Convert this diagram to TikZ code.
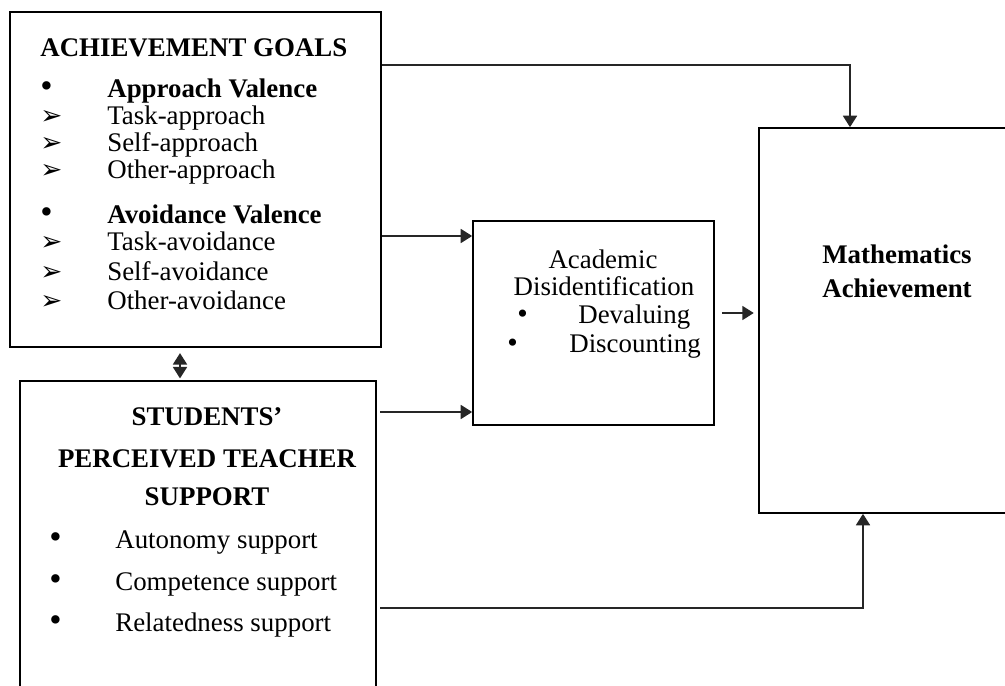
\documentclass[tikz,border=0pt]{standalone}
\usepackage{fontspec}
\setmainfont{Liberation Serif}
\newfontfamily\symfont{DejaVu Sans}
\usetikzlibrary{arrows.meta}

\newcommand{\pointer}{{\symfont\fontsize{15}{15}\selectfont ➢}}
\newcommand{\dotmark}[1][20]{\smash{\fontsize{#1}{#1}\selectfont •}}

\tikzset{
	box/.style={draw, line width=1pt, inner sep=0pt},
	line/.style={anchor=base west, inner sep=0pt},
	mid/.style={anchor=base, inner sep=0pt},
	link/.style={->, line width=0.9pt, black!85},
}

\begin{document}
\begin{tikzpicture}[x=0.02cm, y=-0.02cm, >={Triangle[length=6.5pt,width=8pt]},
		every node/.style={font=\fontsize{15.3}{18}\selectfont}]
		\useasboundingbox (0,0) rectangle (1005,686);
		\clip (0,0) rectangle (1005,686);
		% boxes
		\node[box, minimum width=7.42cm, minimum height=6.70cm] (ag) at (195.5,179.5) {};
		\node[box, minimum width=7.12cm, minimum height=6.78cm] (tsup) at (198,550.5) {};
		\node[box, minimum width=4.82cm, minimum height=4.08cm] (acd) at (593.5,323) {};
		\node[box, minimum width=5.62cm, minimum height=7.70cm] (math) at (899.5,320.5) {};
		% achievement goals
		\node[line] (agt) at (40,57) {\bfseries ACHIEVEMENT GOALS};
		\node[line] (av) at (107,98) {\bfseries Approach Valence};
		\node[line] (avd) at (107,223) {\bfseries Avoidance Valence};
		\node[line] (b1) at (40,98) {\dotmark};
		\node[line] (b2) at (40,223) {\dotmark};
		\foreach \yy/\txt in {125/Task-approach, 152/Self-approach, 178/Other-approach,
			251/Task-avoidance, 280/Self-avoidance, 309/Other-avoidance}{
			\node[line] (g\yy) at (107,\yy) {\txt};
			\node[line] (p\yy) at (40,\yy) {\pointer};
		}
		% teacher support
		\node[mid] (ts1) at (207,425) {\bfseries STUDENTS’};
		\node[mid] (ts2) at (207,467) {\bfseries PERCEIVED TEACHER};
		\node[mid] (ts3) at (207,505) {\bfseries SUPPORT};
		\foreach \yy/\txt in {548/Autonomy support, 590/Competence support, 631/Relatedness support}{
			\node[line] (s\yy) at (115,\yy) {\txt};
			\node[line] (d\yy) at (49,\yy) {\dotmark};
		}
		% disidentification
		\node[mid] (ad1) at (603,268) {Academic};
		\node[mid] (ad2) at (604,296) {Disidentification};
		\node[line] (dv) at (578,323) {Devaluing};
		\node[line] (dc) at (569,352) {Discounting};
		\node[line] (dvb) at (517,323) {\dotmark[17]};
		\node[line] (dcb) at (507,352) {\dotmark[17]};
		% outcome
		\node[mid] (m1) at (897,263) {\bfseries Mathematics};
		\node[mid] (m2) at (897,297) {\bfseries Achievement};
		% connectors
		\draw[link] (ag.east |- 0,65) -| (math.north -| 850,0);
		\draw[link] (ag.east |- 0,236) -- (acd.west |- 0,236);
		\draw[link, shorten <=2pt] (tsup.east |- 0,412) -- (acd.west |- 0,412);
		\draw[link, shorten <=4pt, shorten >=2.5pt] (acd.east |- 0,313) -- (math.west |- 0,313);
		\draw[link, shorten <=2pt] (tsup.east |- 0,608) -| (math.south -| 863,0);
		\draw[link, <->, shorten <=3pt, shorten >=1pt] (ag.south -| 180,0) -- (tsup.north -| 180,0);
	\end{tikzpicture}
\end{document}
